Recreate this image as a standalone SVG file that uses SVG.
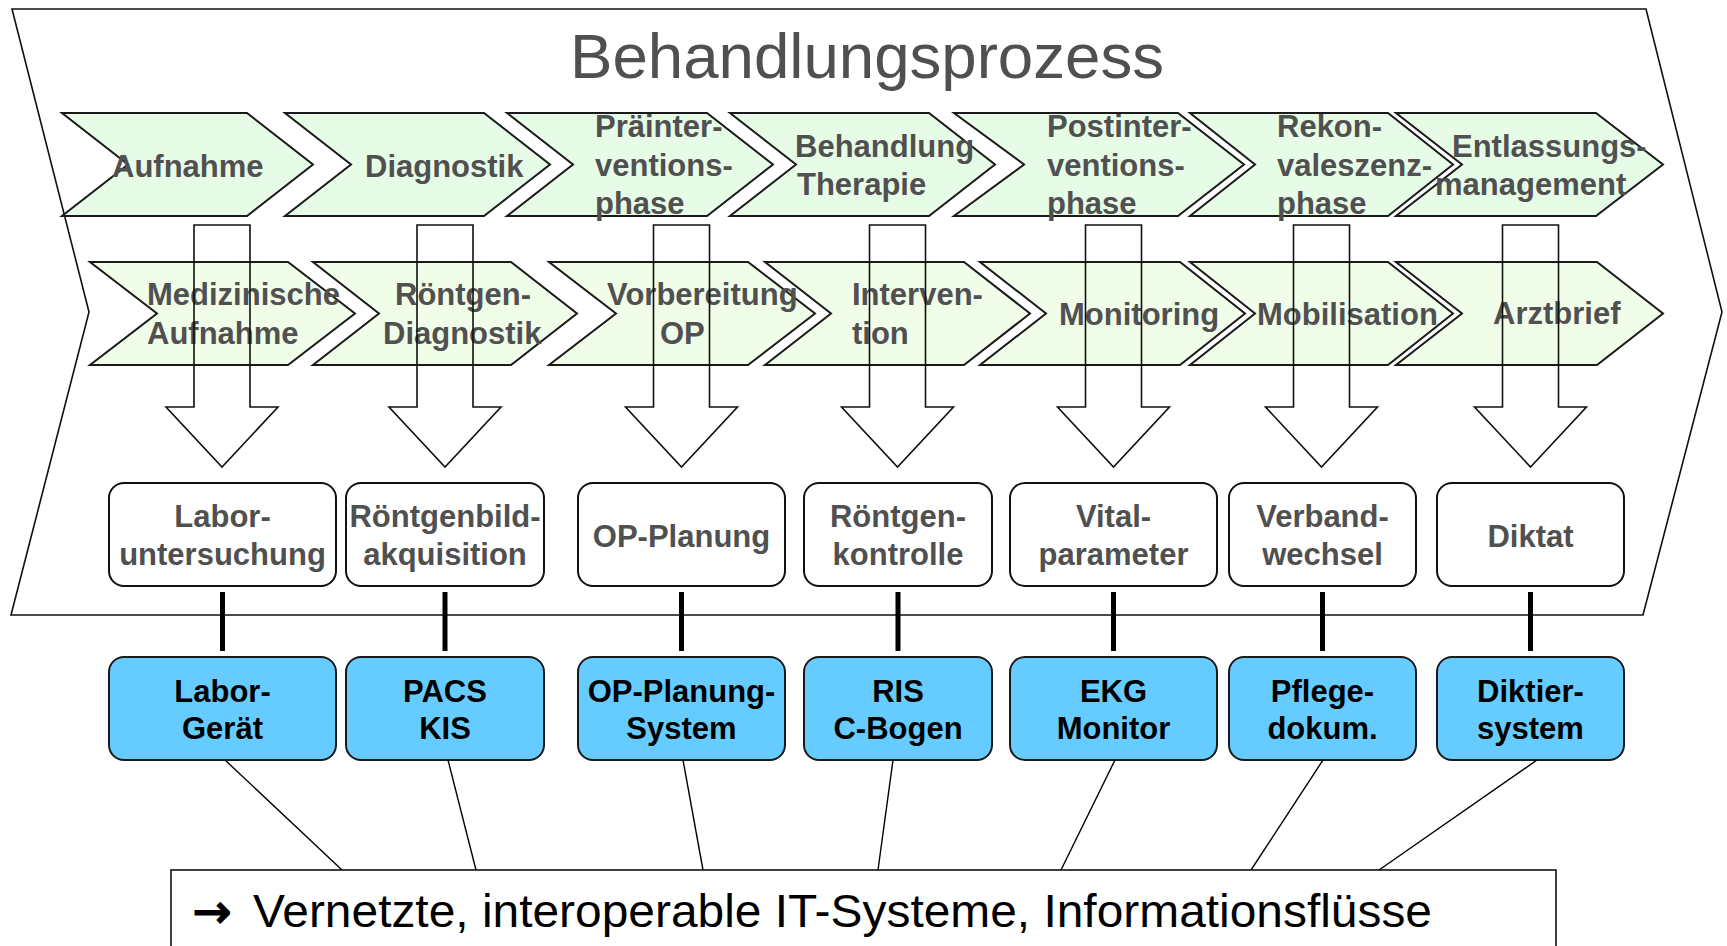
<svg xmlns="http://www.w3.org/2000/svg" width="1727" height="946" viewBox="0 0 1727 946">
<style>
.ch1{fill:#e6fce6;stroke:#1a1a1a;stroke-width:2;stroke-linejoin:miter}
.ch2{fill:#f0fde9;stroke:#1a1a1a;stroke-width:2;stroke-linejoin:miter}
.t{font-family:"Liberation Sans",Arial,sans-serif;font-weight:bold;font-size:31px;fill:#505050}
.tc{font-family:"Liberation Sans",Arial,sans-serif;font-weight:bold;font-size:31px;fill:#505050;text-anchor:middle}
.tb{font-family:"Liberation Sans",Arial,sans-serif;font-weight:bold;font-size:31px;fill:#000;text-anchor:middle}
.task{fill:#fff;stroke:#111;stroke-width:2}
.sys{fill:#66ccff;stroke:#1a1a1a;stroke-width:2}
.arr{fill:none;stroke:#111;stroke-width:1.6}
.thick{stroke:#000;stroke-width:5}
.thin{stroke:#000;stroke-width:1.4}
</style>
<rect width="1727" height="946" fill="#fff"/>
<g id="frame">
<path d="M12,9 L1646,9 L1722,312 L1643,615 L11,615 L89,312 Z" fill="#fff" stroke="#111" stroke-width="1.6"/>
<text x="570" y="78" font-family="'Liberation Sans',Arial,sans-serif" font-size="63" fill="#505050" textLength="594" lengthAdjust="spacingAndGlyphs">Behandlungsprozess</text>
</g>
<g id="phase-aufnahme"><path class="ch1" d="M62,113 H247 L313,164.5 L247,216 H62 L128,164.5 Z"/><text class="t" x="112" y="177">Aufnahme</text></g>
<g id="phase-diagnostik"><path class="ch1" d="M285,113 H484 L550,164.5 L484,216 H285 L351,164.5 Z"/><text class="t" x="365" y="177">Diagnostik</text></g>
<g id="phase-praeintervention"><path class="ch1" d="M507,113 H707 L773,164.5 L707,216 H507 L573,164.5 Z"/><text class="t" x="595" y="137">Präinter-</text><text class="t" x="595" y="176">ventions-</text><text class="t" x="595" y="214">phase</text></g>
<g id="phase-behandlung"><path class="ch1" d="M730,113 H929 L995,164.5 L929,216 H730 L796,164.5 Z"/><text class="t" x="795" y="157">Behandlung</text><text class="t" x="797" y="195">Therapie</text></g>
<g id="phase-postintervention"><path class="ch1" d="M954,113 H1178 L1244,164.5 L1178,216 H954 L1024,164.5 Z"/><text class="t" x="1047" y="137">Postinter-</text><text class="t" x="1047" y="176">ventions-</text><text class="t" x="1047" y="214">phase</text></g>
<g id="phase-rekonvaleszenz"><path class="ch1" d="M1190,113 H1388 L1453,164.5 L1388,216 H1190 L1255,164.5 Z"/><text class="t" x="1277" y="137">Rekon-</text><text class="t" x="1277" y="176">valeszenz-</text><text class="t" x="1277" y="214">phase</text></g>
<g id="phase-entlassung"><path class="ch1" d="M1396,113 H1596 L1663,164.5 L1596,216 H1396 L1462,164.5 Z"/><text class="t" x="1452" y="157">Entlassungs-</text><text class="t" x="1435" y="195">management</text></g>

<g id="step-med-aufnahme"><path class="ch2" d="M90,262 H288 L355,313.5 L288,365 H90 L157,313.5 Z"/><text class="t" x="147" y="305">Medizinische</text><text class="t" x="147" y="344">Aufnahme</text></g>
<g id="step-roentgen-diagnostik"><path class="ch2" d="M313,262 H511 L577,313.5 L511,365 H313 L379,313.5 Z"/><text class="t" x="395" y="305">Röntgen-</text><text class="t" x="383" y="344">Diagnostik</text></g>
<g id="step-vorbereitung"><path class="ch2" d="M549,262 H748 L815,313.5 L748,365 H549 L616,313.5 Z"/><text class="t" x="607" y="305">Vorbereitung</text><text class="t" x="660" y="344">OP</text></g>
<g id="step-intervention"><path class="ch2" d="M765,262 H964 L1030,313.5 L964,365 H765 L831,313.5 Z"/><text class="t" x="852" y="305">Interven-</text><text class="t" x="852" y="344">tion</text></g>
<g id="step-monitoring"><path class="ch2" d="M980,262 H1180 L1245,313.5 L1180,365 H980 L1046,313.5 Z"/><text class="t" x="1059" y="325">Monitoring</text></g>
<g id="step-mobilisation"><path class="ch2" d="M1190,262 H1388 L1453,313.5 L1388,365 H1190 L1255,313.5 Z"/><text class="t" x="1257" y="325">Mobilisation</text></g>
<g id="step-arztbrief"><path class="ch2" d="M1396,262 H1597 L1663,313.5 L1597,365 H1396 L1462,313.5 Z"/><text class="t" x="1493" y="324">Arztbrief</text></g>

<g id="flow-arrows">
<path class="arr" d="M194,225 H250 V407 H278 L222,467 L166,407 H194 Z"/>
<path class="arr" d="M417,225 H473 V407 H501 L445,467 L389,407 H417 Z"/>
<path class="arr" d="M653.5,225 H709.5 V407 H737.5 L681.5,467 L625.5,407 H653.5 Z"/>
<path class="arr" d="M869.5,225 H925.5 V407 H953.5 L897.5,467 L841.5,407 H869.5 Z"/>
<path class="arr" d="M1085.5,225 H1141.5 V407 H1169.5 L1113.5,467 L1057.5,407 H1085.5 Z"/>
<path class="arr" d="M1293.5,225 H1349.5 V407 H1377.5 L1321.5,467 L1265.5,407 H1293.5 Z"/>
<path class="arr" d="M1502.5,225 H1558.5 V407 H1586.5 L1530.5,467 L1474.5,407 H1502.5 Z"/>
</g>

<g id="task-labor"><rect class="task" x="109" y="483" width="227" height="103" rx="15"/><text class="tc" x="222.5" y="527">Labor-</text><text class="tc" x="222.5" y="565">untersuchung</text></g>
<g id="task-roentgenbild"><rect class="task" x="346" y="483" width="198" height="103" rx="15"/><text class="tc" x="445" y="527">Röntgenbild-</text><text class="tc" x="445" y="565">akquisition</text></g>
<g id="task-opplanung"><rect class="task" x="578" y="483" width="207" height="103" rx="15"/><text class="tc" x="681.5" y="547">OP-Planung</text></g>
<g id="task-roentgenkontrolle"><rect class="task" x="804" y="483" width="188" height="103" rx="15"/><text class="tc" x="898" y="527">Röntgen-</text><text class="tc" x="898" y="565">kontrolle</text></g>
<g id="task-vital"><rect class="task" x="1010" y="483" width="207" height="103" rx="15"/><text class="tc" x="1113.5" y="527">Vital-</text><text class="tc" x="1113.5" y="565">parameter</text></g>
<g id="task-verband"><rect class="task" x="1229" y="483" width="187" height="103" rx="15"/><text class="tc" x="1322.5" y="527">Verband-</text><text class="tc" x="1322.5" y="565">wechsel</text></g>
<g id="task-diktat"><rect class="task" x="1437" y="483" width="187" height="103" rx="15"/><text class="tc" x="1530.5" y="547">Diktat</text></g>

<g id="sys-laborgeraet"><rect class="sys" x="109" y="657" width="227" height="103" rx="15"/><text class="tb" x="222.5" y="702">Labor-</text><text class="tb" x="222.5" y="739">Gerät</text></g>
<g id="sys-pacs"><rect class="sys" x="346" y="657" width="198" height="103" rx="15"/><text class="tb" x="445" y="702">PACS</text><text class="tb" x="445" y="739">KIS</text></g>
<g id="sys-opplanung"><rect class="sys" x="578" y="657" width="207" height="103" rx="15"/><text class="tb" x="681.5" y="702">OP-Planung-</text><text class="tb" x="681.5" y="739">System</text></g>
<g id="sys-ris"><rect class="sys" x="804" y="657" width="188" height="103" rx="15"/><text class="tb" x="898" y="702">RIS</text><text class="tb" x="898" y="739">C-Bogen</text></g>
<g id="sys-ekg"><rect class="sys" x="1010" y="657" width="207" height="103" rx="15"/><text class="tb" x="1113.5" y="702">EKG</text><text class="tb" x="1113.5" y="739">Monitor</text></g>
<g id="sys-pflege"><rect class="sys" x="1229" y="657" width="187" height="103" rx="15"/><text class="tb" x="1322.5" y="702">Pflege-</text><text class="tb" x="1322.5" y="739">dokum.</text></g>
<g id="sys-diktier"><rect class="sys" x="1437" y="657" width="187" height="103" rx="15"/><text class="tb" x="1530.5" y="702">Diktier-</text><text class="tb" x="1530.5" y="739">system</text></g>

<g id="summary">
<rect x="171" y="870" width="1385" height="110" fill="#fff" stroke="#111" stroke-width="1.6"/>
<text x="193" y="927" font-family="'DejaVu Sans',sans-serif" font-size="46" fill="#000" stroke="#000" stroke-width="1.8">→</text>
<text x="253" y="927" font-family="'Liberation Sans',Arial,sans-serif" font-size="47" fill="#000" textLength="1179" lengthAdjust="spacingAndGlyphs">Vernetzte, interoperable IT-Systeme, Informationsflüsse</text>
</g>

<g id="connectors">
<line class="thick" x1="222.5" y1="592" x2="222.5" y2="651"/>
<line class="thick" x1="445" y1="592" x2="445" y2="651"/>
<line class="thick" x1="681.5" y1="592" x2="681.5" y2="651"/>
<line class="thick" x1="898" y1="592" x2="898" y2="651"/>
<line class="thick" x1="1113.5" y1="592" x2="1113.5" y2="651"/>
<line class="thick" x1="1322.5" y1="592" x2="1322.5" y2="651"/>
<line class="thick" x1="1530.5" y1="592" x2="1530.5" y2="651"/>
<line class="thin" x1="225" y1="760" x2="342" y2="870"/>
<line class="thin" x1="448" y1="760" x2="476" y2="870"/>
<line class="thin" x1="683" y1="760" x2="703" y2="870"/>
<line class="thin" x1="893" y1="760" x2="878" y2="870"/>
<line class="thin" x1="1115" y1="760" x2="1061" y2="870"/>
<line class="thin" x1="1323" y1="760" x2="1251" y2="870"/>
<line class="thin" x1="1537" y1="760" x2="1379" y2="870"/>
</g>
</svg>
